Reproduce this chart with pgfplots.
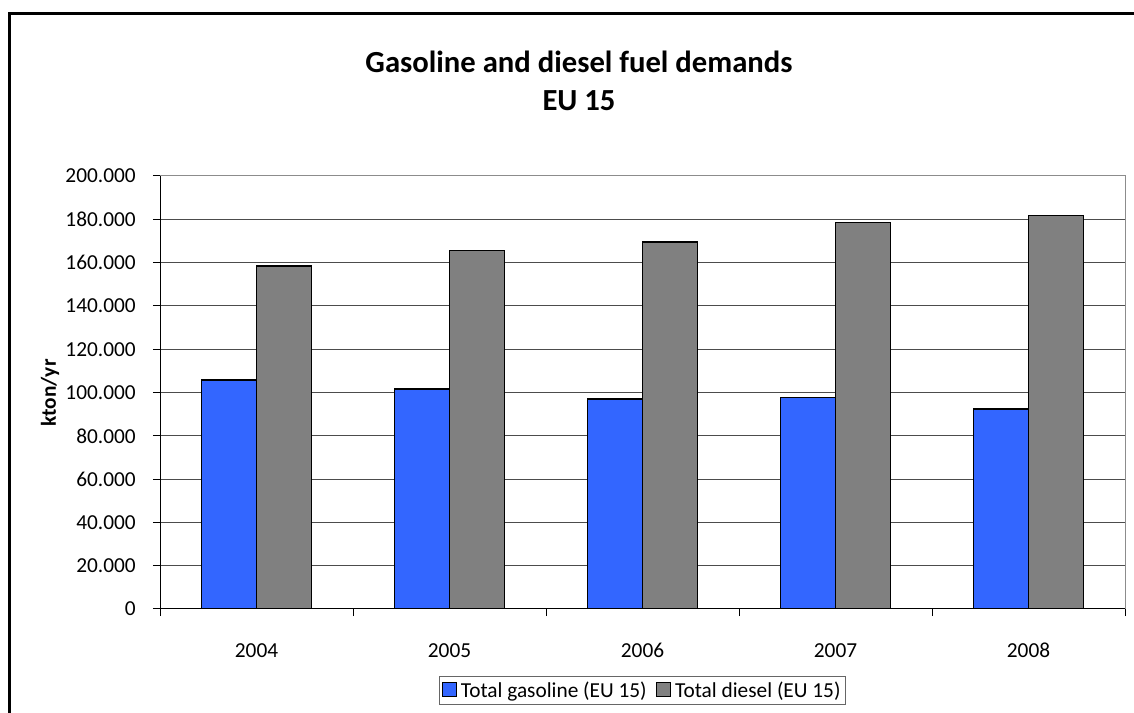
\documentclass[border=0pt]{standalone}
\usepackage{fontspec}
\setmainfont{Carlito}
\usepackage{pgfplots}
\pgfplotsset{compat=1.18}
\definecolor{gasblue}{HTML}{3366FF}
\definecolor{dieselgray}{HTML}{808080}
\begin{document}
\begin{tikzpicture}[x=0.75pt,y=0.75pt]
  \useasboundingbox (0,0) rectangle (1134,713);
  \clip (0,0) rectangle (1134,713);
  % outer chart frame (right and bottom edges fall outside the picture)
  \draw[line width=2.25pt] (9,-20) -- (9,699) -- (1160,699);
  \node[font=\bfseries\fontsize{23}{27}\selectfont, anchor=base] at (579,640) {Gasoline and diesel fuel demands};
  \node[font=\bfseries\fontsize{23}{27}\selectfont, anchor=base] at (579,602) {EU 15};
  \node[rotate=90, font=\bfseries\fontsize{16}{19}\selectfont] at (50,320) {kton/yr};
  \begin{axis}[
    at={(120pt,78pt)}, anchor=south west,
    scale only axis,
    width=723.75pt, height=324.75pt,
    ymin=0, ymax=200,
    xmin=-0.5, xmax=4.5,
    ytick={0,20,...,200},
    yticklabels={0,20.000,40.000,60.000,80.000,100.000,120.000,140.000,160.000,180.000,200.000},
    xtick={0,1,2,3,4},
    xticklabels={2004,2005,2006,2007,2008},
    minor xtick={-0.5,0.5,...,4.5},
    every major x tick/.style={draw=none},
    tick align=outside,
    major tick length=5.25pt,
    minor tick length=5.25pt,
    xtick pos=left, ytick pos=left,
    ymajorgrids,
    grid style={black!70, line width=0.75pt},
    axis line style={black!45, line width=0.75pt},
    tick style={black, line width=0.75pt},
    tick label style={font=\fontsize{16}{19}\selectfont},
    xticklabel style={anchor=base, yshift=-30.75pt},
    yticklabel style={anchor=east, inner sep=0pt, xshift=-12.75pt},
    ybar=0pt, bar width=41.25pt,
    legend columns=2,
    legend style={at={(0.5,-0.189)}, anchor=center,
      draw=black!60, line width=0.75pt,
      font=\fontsize{16}{19}\selectfont,
      inner sep=2pt,
      /tikz/every odd column/.append style={column sep=1pt},
      /tikz/every even column/.append style={column sep=5pt}},
    legend image code/.code={\draw[#1, line width=0.75pt] (0pt,-4.5pt) rectangle (10.5pt,6pt);},
    ]
    \addplot[fill=gasblue, draw=black, line width=1pt, bar shift=-20.625pt]
      coordinates {(0,105.8) (1,101.6) (2,97.0) (3,97.6) (4,92.4)};
    \addlegendentry{Total gasoline (EU 15)}
    \addplot[fill=dieselgray, draw=black, line width=1pt, bar shift=20.625pt]
      coordinates {(0,158.4) (1,165.7) (2,169.5) (3,178.6) (4,181.7)};
    \addlegendentry{Total diesel (EU 15)}
    \draw[black, line width=0.75pt] (rel axis cs:0,0) -- (rel axis cs:0,1);
    \draw[black, line width=0.75pt] (rel axis cs:0,0) -- (rel axis cs:1,0);
  \end{axis}
\end{tikzpicture}
\end{document}
